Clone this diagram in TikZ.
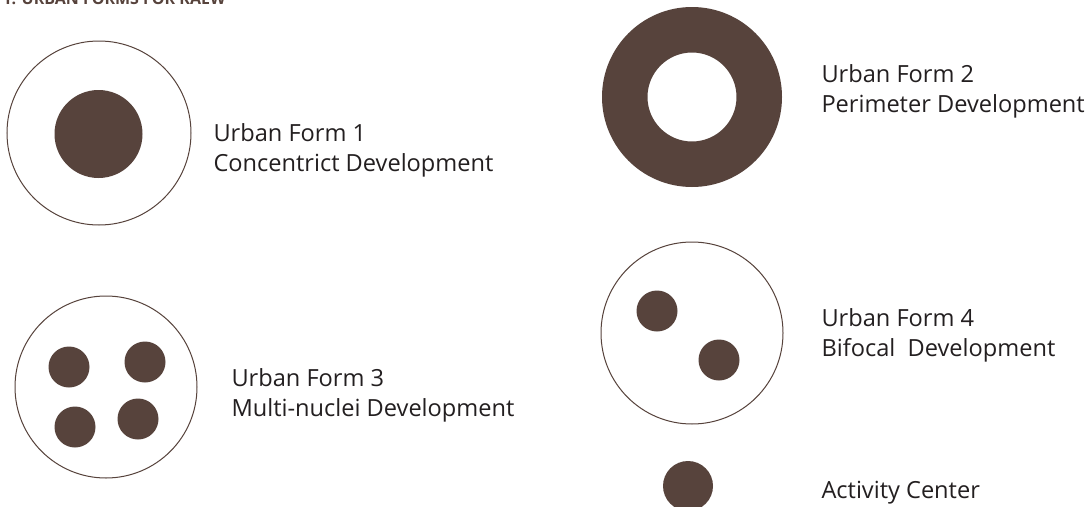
\documentclass[tikz,border=0pt]{standalone}
\usepackage{fontspec}
\setmainfont{Open Sans}
\usepackage{tikz}
\definecolor{earth}{HTML}{57433C}
\definecolor{ink}{HTML}{231F20}
\tikzset{uf/.style={x=1pt,y=-1pt,line width=1pt},
  ring/.style={circle,draw=earth,inner sep=0pt},
  blob/.style={circle,fill=earth,inner sep=0pt},
  lbl/.style={anchor=base west,inner sep=0pt,align=left,text=ink,font=\fontsize{23.6}{30}\selectfont}}

\begin{document}
\begin{tikzpicture}[uf]
  \useasboundingbox (0,0) rectangle (1092,506);
  \clip (0,0) rectangle (1092,506);
  \fill[white] (0,0) rectangle (1092,506);
  % title, cut off by the page top
  \node[anchor=base west,inner sep=0pt,text=earth,font=\fontsize{16}{20}\selectfont\bfseries] (ttl) at (2,5) {1. URBAN FORMS FOR KAEW};
  % form 1
  \node[ring,minimum size=184pt] (f1) at (99,133) {};
  \node[blob,minimum size=88pt] (f1c) at (98.5,134) {};
  \node[lbl] (t1) at (213,171.5) {Urban Form 1\\Concentrict Development};
  % form 2
  \coordinate (f2) at (692,97);
  \fill[earth,even odd rule] (f2) circle[radius=90] (f2) circle[radius=44.5];
  \node[lbl] (t2) at (821,112.5) {Urban Form 2\\Perimeter Development};
  % form 3
  \node[ring,minimum size=182pt] (f3) at (106,387) {};
  \node[blob,minimum size=41pt] (f3a) at (69,367) {};
  \node[blob,minimum size=41pt] (f3b) at (145,362) {};
  \node[blob,minimum size=41pt] (f3c) at (75,427) {};
  \node[blob,minimum size=41pt] (f3d) at (138,419) {};
  \node[lbl] (t3) at (231,416) {Urban Form 3\\Multi-nuclei Development};
  % form 4
  \node[ring,minimum size=182pt] (f4) at (692,333) {};
  \node[blob,minimum size=41pt] (f4a) at (657,311) {};
  \node[blob,minimum size=41pt] (f4b) at (719,360) {};
  \node[lbl] (t4) at (821,356) {Urban Form 4\\Bifocal\ \ Development};
  % legend
  \node[blob,minimum size=50pt] (ac) at (688,486) {};
  \node[lbl] (tac) at (821,498.5) {Activity Center};
\end{tikzpicture}
\end{document}
